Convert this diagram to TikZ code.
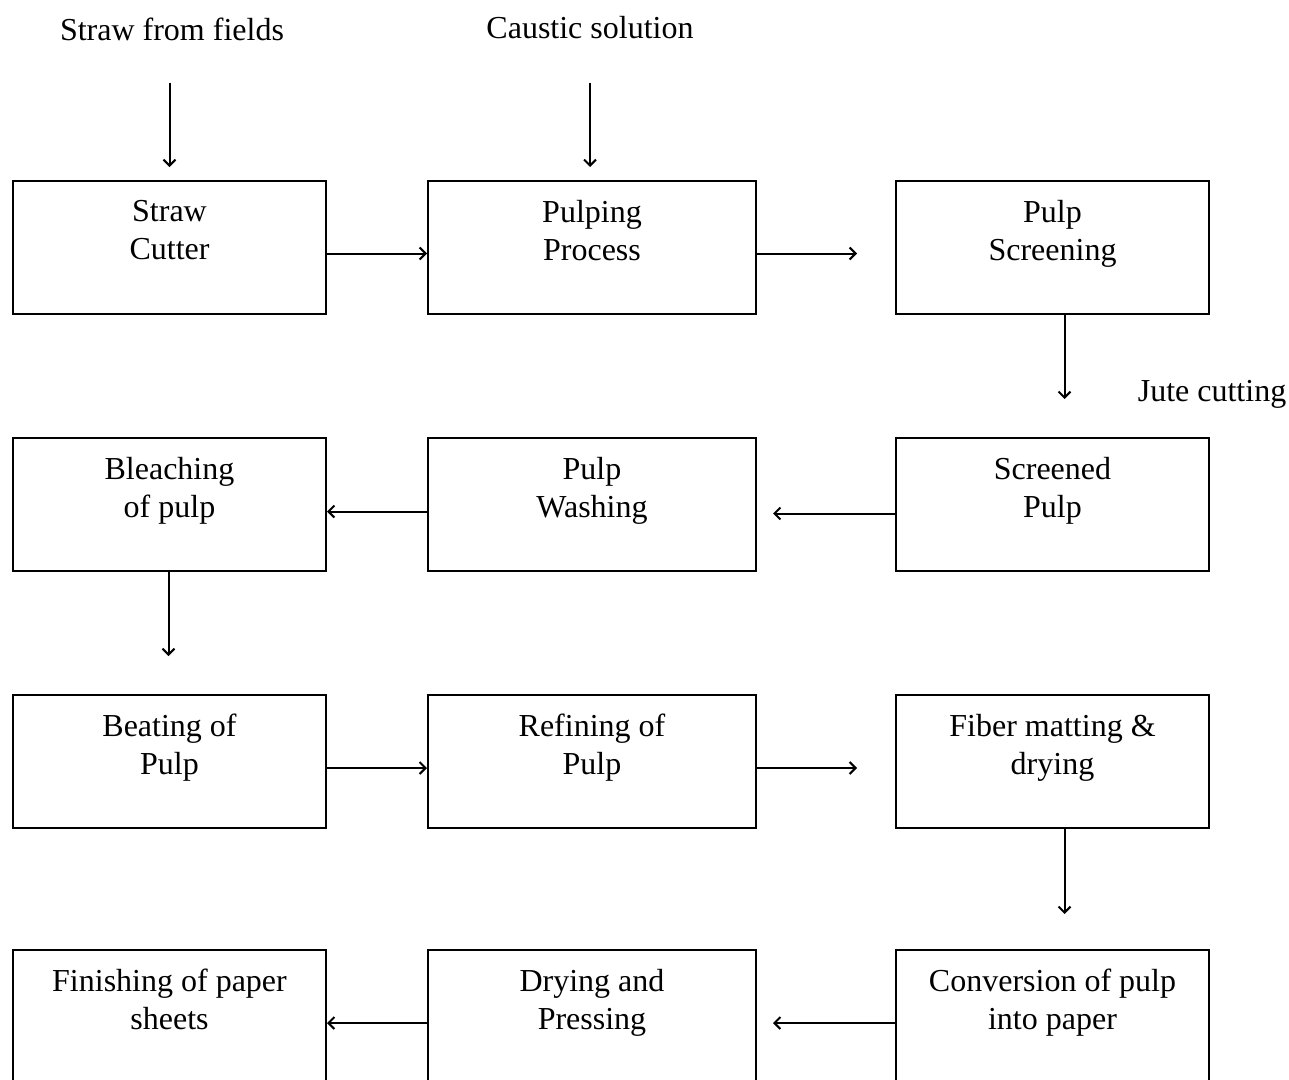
\documentclass[tikz,border=0pt]{standalone}
\usepackage{fontspec}
\setmainfont{Liberation Serif}
\usepackage{tikz}
\usetikzlibrary{arrows.meta,calc,positioning}
\newcommand\boxfont{\fontsize{32}{38}\selectfont}
\tikzset{
    procbox/.style={draw=black,line width=2pt,minimum width=313pt,minimum height=133pt,inner sep=0pt},
    widebox/.style={procbox,minimum width=328pt},
    boxtext/.style={align=center,inner sep=0pt,font=\boxfont,execute at begin node={\rule{0pt}{27pt}}},
    intext/.style={anchor=base,inner sep=0pt,font=\boxfont},
    flow/.style={line width=2pt,draw=black,-{Straight Barb[length=6pt,width=12pt]}}
}
\begin{document}
\begin{tikzpicture}[x=1pt,y=-1pt]
  \useasboundingbox (0,0) rectangle (1289,1079);

  % 方框
  \node[procbox] (cutter)   at (169.5,247.5)  {};
  \node[widebox] (pulping)  at (592,247.5)    {};
  \node[procbox] (screen)   at (1052.5,247.5) {};
  \node[procbox] (bleach)   at (169.5,504.5)  {};
  \node[widebox] (washing)  at (592,504.5)    {};
  \node[procbox] (screened) at (1052.5,504.5) {};
  \node[procbox] (beating)  at (169.5,761.5)  {};
  \node[widebox] (refining) at (592,761.5)    {};
  \node[procbox] (matting)  at (1052.5,761.5) {};
  \node[procbox] (finish)   at (169.5,1016.5) {};
  \node[widebox] (pressing) at (592,1016.5)   {};
  \node[procbox] (convert)  at (1052.5,1016.5){};

  % 方框文字
  \node[boxtext,below=20pt of cutter.north]   (cutterT)   {Straw\\Cutter};
  \node[boxtext,below=20pt of pulping.north]  (pulpingT)  {Pulping\\Process};
  \node[boxtext,below=20pt of screen.north]   (screenT)   {Pulp\\Screening};
  \node[boxtext,below=20pt of bleach.north]   (bleachT)   {Bleaching\\of pulp};
  \node[boxtext,below=20pt of washing.north]  (washingT)  {Pulp\\Washing};
  \node[boxtext,below=20pt of screened.north] (screenedT) {Screened\\Pulp};
  \node[boxtext,below=20pt of beating.north]  (beatingT)  {Beating of\\Pulp};
  \node[boxtext,below=20pt of refining.north] (refiningT) {Refining of\\Pulp};
  \node[boxtext,below=20pt of matting.north]  (mattingT)  {Fiber matting \&\\drying};
  \node[boxtext,below=20pt of finish.north]   (finishT)   {Finishing of paper\\sheets};
  \node[boxtext,below=20pt of pressing.north] (pressingT) {Drying and\\Pressing};
  \node[boxtext,below=20pt of convert.north]  (convertT)  {Conversion of pulp\\into paper};

  % 输入
  \node[intext] (straw)   at (172,40)  {Straw from fields};
  \node[intext] (caustic) at (590,38)  {Caustic solution};
  \node[intext] (jute)    at (1212,401) {Jute cutting};

  % 箭头
  \draw[flow,shorten <=42pt,shorten >=13pt] (straw.south -| cutter.north) -- (cutter.north);
  \draw[flow,shorten <=44pt,shorten >=13pt] ([xshift=-2pt]caustic.south -| pulping.north) -- ([xshift=-2pt]pulping.north);

  \draw[flow] ([yshift=-6pt]cutter.east) -- ([yshift=-6pt]pulping.west);
  \draw[flow,shorten >=38pt] ([yshift=-6pt]pulping.east) -- ([yshift=-6pt]screen.west);
  \draw[flow,shorten >=38pt] ([xshift=12pt]screen.south) -- ([xshift=12pt]screened.north);

  \draw[flow,shorten >=16pt] ([yshift=-9pt]screened.west) -- ([yshift=-9pt]washing.east);
  \draw[flow] ([yshift=-7pt]washing.west) -- ([yshift=-7pt]bleach.east);
  \draw[flow,shorten >=38pt] ([xshift=-1pt]bleach.south) -- ([xshift=-1pt]beating.north);

  \draw[flow] ([yshift=-6.5pt]beating.east) -- ([yshift=-6.5pt]refining.west);
  \draw[flow,shorten >=38pt] ([yshift=-6.5pt]refining.east) -- ([yshift=-6.5pt]matting.west);
  \draw[flow,shorten >=35pt] ([xshift=12pt]matting.south) -- ([xshift=12pt]convert.north);

  \draw[flow,shorten >=16pt] ([yshift=-6.5pt]convert.west) -- ([yshift=-6.5pt]pressing.east);
  \draw[flow] ([yshift=-6.5pt]pressing.west) -- ([yshift=-6.5pt]finish.east);
\end{tikzpicture}
\end{document}
